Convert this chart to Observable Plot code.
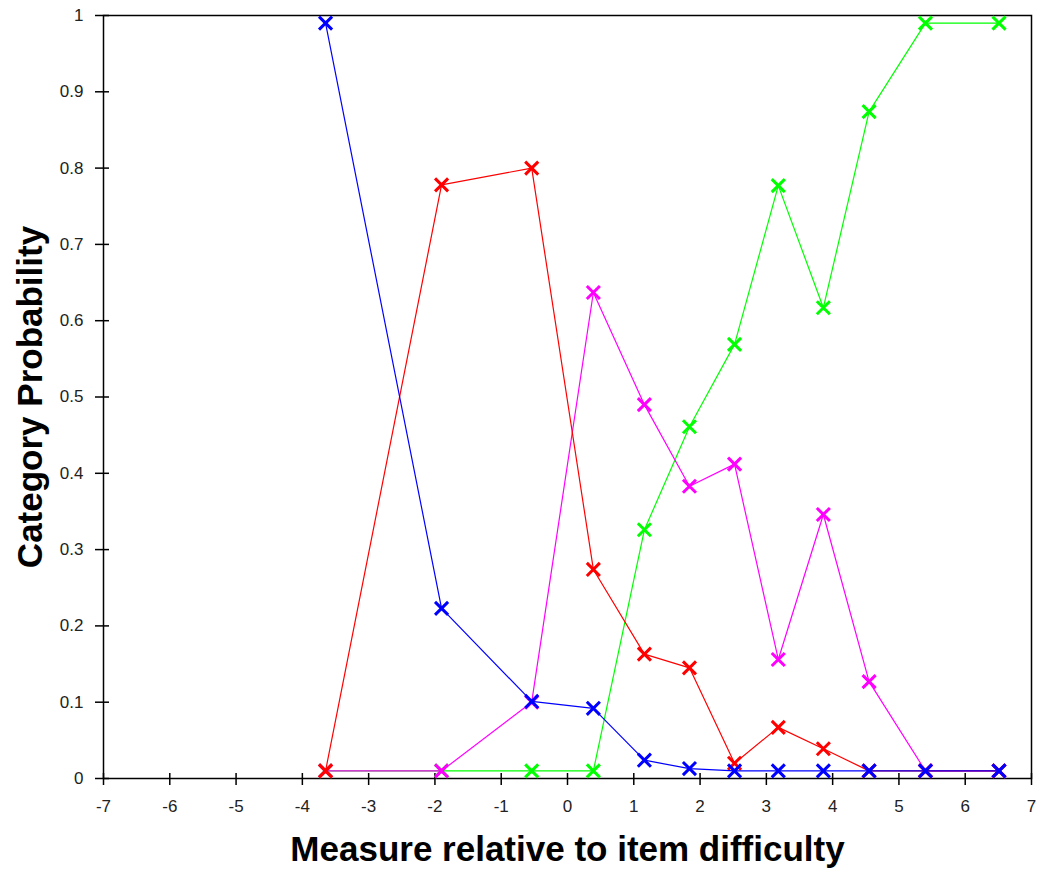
<!DOCTYPE html>
<html>
<head>
<meta charset="utf-8">
<script src="https://cdn.jsdelivr.net/npm/d3@7"></script>
<script src="https://cdn.jsdelivr.net/npm/@observablehq/plot@0.6"></script>
<style>
  html, body { margin: 0; padding: 0; background: #fff; }
  #chart svg { font-family: "Liberation Sans", Arial, sans-serif; }
  g[aria-label="y-axis tick label"], g[aria-label="x-axis tick label"] { fill: #222; font-size: 17px; }
  g[aria-label="y-axis label"], g[aria-label="x-axis label"] { font-weight: bold; fill: #000; }
</style>
</head>
<body>
<div id="chart"></div>
<script>
const measures = [-3.65, -1.90, -0.54, 0.39, 1.16, 1.84, 2.52, 3.18, 3.86, 4.55, 5.40, 6.51];
const seriesNames = ["Green", "Magenta", "Red", "Blue"];
const seriesColors = ["#00ff00", "#ff00ff", "#ff0000", "#0000ff"];
const greenValues   = [0.01, 0.01, 0.01, 0.01, 0.326, 0.461, 0.569, 0.777, 0.617, 0.874, 0.99, 0.99];
const magentaValues = [0.01, 0.01, 0.10, 0.637, 0.49, 0.383, 0.412, 0.156, 0.346, 0.127, 0.01, 0.01];
const redValues     = [0.01, 0.778, 0.80, 0.274, 0.163, 0.145, 0.02, 0.067, 0.039, 0.01, 0.01, 0.01];
const blueValues    = [0.99, 0.223, 0.101, 0.092, 0.024, 0.013, 0.01, 0.01, 0.01, 0.01, 0.01, 0.01];
const xTicks = [-7, -6, -5, -4, -3, -2, -1, 0, 1, 2, 3, 4, 5, 6, 7];
const yTicks = [0, 0.1, 0.2, 0.3, 0.4, 0.5, 0.6, 0.7, 0.8, 0.9, 1];

const allValues = [greenValues, magentaValues, redValues, blueValues];
const data = [];
seriesNames.forEach((s, i) => {
  measures.forEach((m, j) => data.push({series: s, x: m, y: allValues[i][j]}));
});

const marks = [];
seriesNames.forEach((s, i) => {
  const d = data.filter(r => r.series === s);
  marks.push(Plot.line(d, {x: "x", y: "y", stroke: seriesColors[i], strokeWidth: 1.2}));
  marks.push(Plot.dot(d, {x: "x", y: "y", symbol: "times", r: 6, stroke: seriesColors[i], strokeWidth: 3}));
});

const chart = Plot.plot({
  width: 1041,
  height: 873,
  marginLeft: 103,
  marginRight: 10,
  marginTop: 15,
  marginBottom: 95,
  x: {domain: [-7, 7]},
  y: {domain: [0, 1]},
  marks: [
    Plot.frame({stroke: "#000", strokeWidth: 1.5}),
    Plot.ruleX(xTicks, {x: d => d, y1: 0, y2: 0, insetTop: -5, stroke: "#000", strokeWidth: 1.5}),
    Plot.ruleY(yTicks, {y: d => d, x1: -7, x2: -7, insetRight: -6, stroke: "#000", strokeWidth: 1.5}),
    Plot.axisX({ticks: xTicks, tickSize: 7, tickPadding: 14, fontSize: 17, tickFormat: d => String(d),
      strokeWidth: 1.5, label: null}),
    Plot.axisX({ticks: [], tickSize: 0, fontSize: 35,
      label: "Measure relative to item difficulty", labelAnchor: "center", labelArrow: "none", labelOffset: 82}),
    Plot.axisY({ticks: yTicks, tickSize: 8, tickPadding: 12, fontSize: 17, tickFormat: d => String(d),
      strokeWidth: 1.5, label: null}),
    Plot.axisY({ticks: [], tickSize: 0, fontSize: 35,
      label: "Category Probability", labelAnchor: "center", labelArrow: "none", labelOffset: 86}),
    ...marks
  ]
});
d3.select(chart).selectAll('g[aria-label$="tick label"]').attr("font-size", 17);
document.getElementById("chart").appendChild(chart);
</script>
</body>
</html>
